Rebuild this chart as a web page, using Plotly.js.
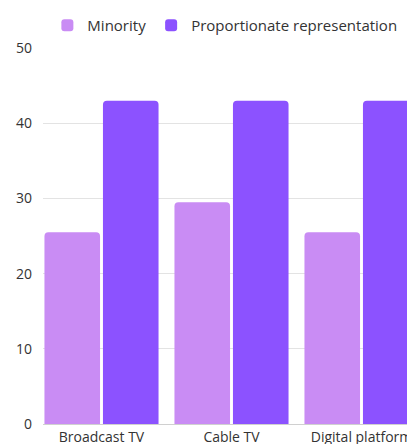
<!DOCTYPE html>
<html><head><meta charset="utf-8">
<script src="https://cdn.plot.ly/plotly-3.0.1.min.js"></script>
<style>html,body{margin:0;padding:0;background:#fff}</style>
</head><body><div id="c" style="width:407px;height:444px"></div>
<script>
var categories = ["Broadcast TV", "Cable TV", "Digital platform"];
var minority = [25.5, 29.5, 25.5];
var proportionate = [43, 43, 43];
var seriesNames = ["Minority", "Proportionate representation"];
var font = {family: "Open Sans, sans-serif", size: 14, color: "#333"};
var legendFont = {family: "Open Sans, sans-serif", size: 15, color: "#333"};
var data = [
  {type: "bar", name: seriesNames[0], x: categories, y: minority,
   marker: {color: "#c98cf4", cornerradius: 4, line: {width: 0}}},
  {type: "bar", name: seriesNames[1], x: categories, y: proportionate,
   marker: {color: "#8c52ff", cornerradius: 4, line: {width: 0}}}
];
var layout = {
  width: 407, height: 444,
  margin: {l: 43, r: 0, t: 48, b: 20},
  font: font,
  bargap: 0.1, bargroupgap: 0.05,
  showlegend: true,
  legend: {orientation: "h", x: 0.012, xanchor: "left", y: 1.016, yanchor: "bottom", font: legendFont, itemwidth: 30, itemclick: false},
  xaxis: {range: [-0.45, 2.35], showgrid: false, zeroline: false, showline: false, ticks: "", tickfont: font, ticklabelstandoff: 3, fixedrange: true},
  yaxis: {range: [0, 50], dtick: 10, gridcolor: "#e3e3e3", zeroline: true, zerolinecolor: "#d0d0d0", ticks: "", tickfont: font, ticklabelstandoff: 10},
  plot_bgcolor: "#fff", paper_bgcolor: "#fff"
};
Plotly.newPlot("c", data, layout, {displayModeBar: false, staticPlot: true});
</script></body></html>
